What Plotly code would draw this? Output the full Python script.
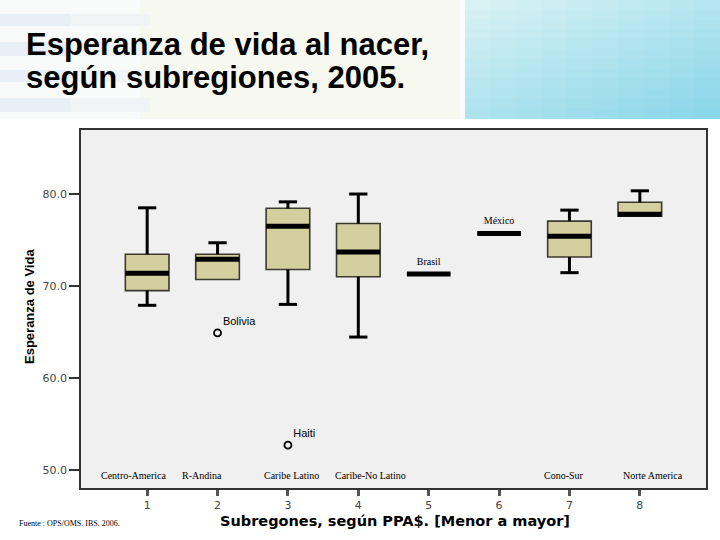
import plotly.graph_objects as go

# ---------------- data ----------------
positions = [1, 2, 3, 4, 5, 6, 7, 8]
subregions = ["Centro-America", "R-Andina", "Caribe Latino", "Caribe-No Latino",
              "Brasil", "México", "Cono-Sur", "Norte America"]
q1 = [69.5, 70.7, 71.8, 71.0, 71.3, 75.7, 73.15, 77.6]
median = [71.4, 72.9, 76.5, 73.7, 71.3, 75.7, 75.4, 77.8]
q3 = [73.45, 73.45, 78.45, 76.8, 71.3, 75.7, 77.05, 79.1]
lower_whisker = [67.9, 70.7, 68.0, 64.45, 71.3, 75.7, 71.45, 77.6]
upper_whisker = [78.5, 74.7, 79.15, 80.0, 71.3, 75.7, 78.25, 80.35]

outlier_x = [2, 3]
outlier_y = [64.9, 52.7]
outlier_names = ["Bolivia", "Haiti"]

single_x = [5, 6]
single_y = [71.3, 75.7]
single_names = ["Brasil", "México"]

bottom_labels = ["Centro-America", "R-Andina", "Caribe Latino", "Caribe-No Latino",
                 "Cono-Sur", "Norte America"]
yticks = [50, 60, 70, 80]

# ---------------- styling / layout ----------------
BOX_W = 0.62
CAP_HALF = 0.13
box_fill = "#d4cf9e"

fig = go.Figure()

# whiskers (vertical + caps) computed from data
wx, wy = [], []
for p, lo, a, b, hi in zip(positions, lower_whisker, q1, q3, upper_whisker):
    if hi > b:
        wx += [p, p, None, p - CAP_HALF, p + CAP_HALF, None]
        wy += [b, hi, None, hi, hi, None]
    if lo < a:
        wx += [p, p, None, p - CAP_HALF, p + CAP_HALF, None]
        wy += [a, lo, None, lo, lo, None]
fig.add_trace(go.Scatter(x=wx, y=wy, mode="lines",
                         line=dict(color="black", width=3),
                         hoverinfo="skip", showlegend=False))

# boxes
fig.add_trace(go.Box(x=positions, q1=q1, median=median, q3=q3,
                     lowerfence=q1, upperfence=q3,
                     width=BOX_W, whiskerwidth=0,
                     fillcolor=box_fill,
                     line=dict(color="#3a3a30", width=1.6),
                     boxpoints=False, showlegend=False))

# medians (thick)
mx, my = [], []
for p, m in zip(positions, median):
    mx += [p - BOX_W / 2, p + BOX_W / 2, None]
    my += [m, m, None]
fig.add_trace(go.Scatter(x=mx, y=my, mode="lines",
                         line=dict(color="black", width=5),
                         hoverinfo="skip", showlegend=False))

# outliers
fig.add_trace(go.Scatter(x=outlier_x, y=outlier_y, mode="markers+text",
                         text=outlier_names, textposition="top right",
                         textfont=dict(family="Liberation Sans", size=11, color="black"),
                         marker=dict(symbol="circle-open", size=7, color="black",
                                     line=dict(color="black", width=1.8)),
                         showlegend=False))

# single-value labels (transparent marker used only to lift the label)
fig.add_trace(go.Scatter(x=single_x, y=single_y, mode="markers+text",
                         text=single_names, textposition="top center",
                         marker=dict(size=9, color="rgba(0,0,0,0)"),
                         textfont=dict(family="Liberation Serif", size=10, color="black"),
                         hoverinfo="skip", showlegend=False))

# plot geometry (pixels)
L, R, T, B = 81, 706, 130, 488
W, H = 720, 540
pw, ph = R - L, B - T


def px(xp):
    return (xp - L) / pw


def py(yp):
    return (B - yp) / ph


shapes = []
# header: left pale area
shapes.append(dict(type="rect", xref="paper", yref="paper", layer="below",
                   x0=px(0), x1=px(465), y0=py(119), y1=py(0),
                   fillcolor="#f8fbf9", line=dict(width=0)))
shapes.append(dict(type="rect", xref="paper", yref="paper", layer="below",
                   x0=px(140), x1=px(460), y0=py(119), y1=py(0),
                   fillcolor="#f6f8ec", opacity=0.7, line=dict(width=0)))
for y0s, y1s in [(14, 26), (42, 56), (70, 82), (98, 112)]:
    shapes.append(dict(type="rect", xref="paper", yref="paper", layer="below",
                       x0=px(0), x1=px(70), y0=py(y1s), y1=py(y0s),
                       fillcolor="#e8eff5", line=dict(width=0)))
    shapes.append(dict(type="rect", xref="paper", yref="paper", layer="below",
                       x0=px(70), x1=px(150), y0=py(y1s), y1=py(y0s),
                       fillcolor="#f0f4f5", line=dict(width=0)))
# header: right cyan gradient (grid of cells)
NX, NY = 10, 12
c_tl = (0xd8, 0xf2, 0xf4)
c_br = (0x8c, 0xd7, 0xea)
for i in range(NX):
    for j in range(NY):
        t = 0.45 * (i / (NX - 1)) + 0.55 * (j / (NY - 1))
        col = tuple(int(c_tl[k] + (c_br[k] - c_tl[k]) * t) for k in range(3))
        xa = 465 + (720 - 465) * i / NX
        xb = 465 + (720 - 465) * (i + 1) / NX
        ya = 119 * j / NY
        yb = 119 * (j + 1) / NY
        shapes.append(dict(type="rect", xref="paper", yref="paper", layer="below",
                           x0=px(xa), x1=px(xb) + 0.002, y0=py(yb), y1=py(ya) + 0.002,
                           fillcolor="rgb(%d,%d,%d)" % col, line=dict(width=0)))

annotations = []
# title
annotations.append(dict(text="<b>Esperanza de vida al nacer,</b>", xref="paper", yref="paper",
                        x=px(24), y=py(44), xanchor="left", yanchor="middle",
                        showarrow=False,
                        font=dict(family="Liberation Sans", size=31, color="black")))
annotations.append(dict(text="<b>según subregiones, 2005.</b>", xref="paper", yref="paper",
                        x=px(24), y=py(77), xanchor="left", yanchor="middle",
                        showarrow=False,
                        font=dict(family="Liberation Sans", size=31, color="black")))
# axis titles
annotations.append(dict(text="<b>Esperanza de Vida</b>", xref="paper", yref="paper",
                        x=px(29), y=py(307), textangle=-90, showarrow=False,
                        xanchor="center", yanchor="middle",
                        font=dict(family="Liberation Sans", size=13, color="black")))
annotations.append(dict(text="<b>Subregones, según PPA$. [Menor a mayor]</b>",
                        xref="paper", yref="paper",
                        x=px(395), y=py(521), showarrow=False,
                        xanchor="center", yanchor="middle",
                        font=dict(family="DejaVu Sans", size=14.5, color="black")))
# footer
annotations.append(dict(text="Fuente : OPS/OMS. IBS, 2006.", xref="paper", yref="paper",
                        x=px(17), y=py(523), showarrow=False,
                        xanchor="left", yanchor="middle",
                        font=dict(family="Liberation Serif", size=8, color="black")))
# category labels inside plot bottom
label_x = [0.82, 1.78, 3.05, 4.18, 6.92, 8.19]
for lab, lx in zip(bottom_labels, label_x):
    annotations.append(dict(text=lab, x=lx, y=49.35, xref="x", yref="y",
                            showarrow=False, xanchor="center", yanchor="middle",
                            font=dict(family="Liberation Serif", size=10, color="black")))

fig.update_layout(
    width=W, height=H,
    margin=dict(l=L, r=W - R, t=T, b=H - B, pad=0),
    paper_bgcolor="white",
    plot_bgcolor="#f0f0f0",
    shapes=shapes,
    annotations=annotations,
    showlegend=False,
    xaxis=dict(range=[0.06, 8.94], tickmode="array", tickvals=positions,
               ticktext=[str(p) for p in positions],
               ticks="outside", ticklen=6, tickwidth=2.5, tickcolor="#555",
               showgrid=False, zeroline=False,
               showline=True, mirror=True, linecolor="#333", linewidth=1.5,
               tickfont=dict(family="DejaVu Sans", size=11, color="#444")),
    yaxis=dict(range=[48.04, 86.96], tickmode="array", tickvals=yticks,
               ticktext=["%.1f" % v for v in yticks],
               ticks="outside", ticklen=10, tickwidth=1.5, tickcolor="#333",
               showgrid=False, zeroline=False,
               showline=True, mirror=True, linecolor="#333", linewidth=1.5,
               tickfont=dict(family="DejaVu Sans", size=11, color="#444")),
)

fig.write_html("out.html", config={"displayModeBar": False},
               post_script="document.body.style.margin='0px';document.body.style.padding='0px';")
